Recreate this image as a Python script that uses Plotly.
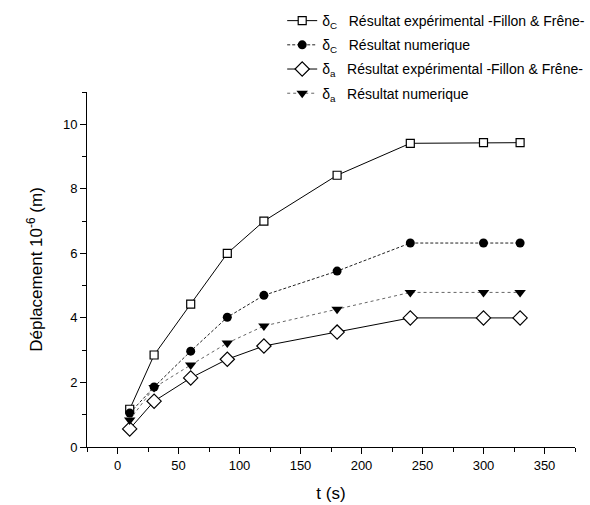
import plotly.graph_objects as go

t = [10, 30, 60, 90, 120, 180, 240, 300, 330]
dc_exp = [1.17, 2.85, 4.43, 6.0, 7.0, 8.42, 9.41, 9.43, 9.43]
dc_num = [1.05, 1.86, 2.97, 4.02, 4.70, 5.45, 6.32, 6.32, 6.32]
da_exp = [0.56, 1.42, 2.14, 2.72, 3.13, 3.56, 4.0, 4.0, 4.0]
da_num = [0.84, 1.84, 2.54, 3.22, 3.75, 4.27, 4.79, 4.79, 4.79]

names = [
    "δ<sub>C</sub>   Résultat expérimental -Fillon & Frêne-",
    "δ<sub>C</sub>   Résultat numerique",
    "δ<sub>a</sub>   Résultat expérimental -Fillon & Frêne-",
    "δ<sub>a</sub>   Résultat numerique",
]

fig = go.Figure()
fig.add_trace(go.Scatter(x=t, y=dc_exp, name=names[0], mode="lines+markers", legendgroup="g1",
    line=dict(color="black", width=1, dash="solid"),
    marker=dict(symbol="square", size=8, color="white", line=dict(color="black", width=1.2))))
fig.add_trace(go.Scatter(x=t, y=dc_num, name=names[1], mode="lines+markers", legendgroup="g2",
    line=dict(color="#222", width=1, dash="3px,2px"),
    marker=dict(symbol="circle", size=9, color="black")))
fig.add_trace(go.Scatter(x=t, y=da_exp, name=names[2], mode="lines+markers", legendgroup="g3",
    line=dict(color="black", width=1, dash="solid"),
    marker=dict(symbol="diamond", size=11, color="white", line=dict(color="black", width=1.2))))
fig.add_trace(go.Scatter(x=t, y=da_num, name=names[3], mode="lines+markers", legendgroup="g4",
    line=dict(color="#666", width=1, dash="dot"),
    marker=dict(symbol="triangle-down", size=10, color="black")))

fig.update_layout(
    width=590, height=505,
    margin=dict(l=87, r=15, t=92, b=58, autoexpand=False),
    paper_bgcolor="white", plot_bgcolor="white",
    font=dict(family="Liberation Sans, Arial, sans-serif", color="black", size=13),
    showlegend=True,
    legend=dict(x=0.40, y=1.245, xanchor="left", yanchor="top",
                bgcolor="rgba(0,0,0,0)", font=dict(size=14), tracegroupgap=3,
                itemwidth=30),
    xaxis=dict(range=[-25, 375], tickmode="array", tickvals=[0, 50, 100, 150, 200, 250, 300, 350],
               ticks="outside", ticklen=6, tickcolor="black", showline=True, linecolor="black",
               linewidth=1, showgrid=False, zeroline=False, automargin=False,
               minor=dict(tickvals=[-25, 25, 75, 125, 175, 225, 275, 325, 375], ticks="outside", ticklen=4, tickcolor="black"),
               title=dict(text="t (s)", font=dict(size=17)),
               tickfont=dict(size=13)),
    yaxis=dict(range=[0, 11], tickmode="array", tickvals=[0, 2, 4, 6, 8, 10],
               ticks="outside", ticklen=6, tickcolor="black", showline=True, linecolor="black",
               linewidth=1, showgrid=False, zeroline=False, automargin=False,
               minor=dict(tickvals=[1, 3, 5, 7, 9, 11], ticks="outside", ticklen=4, tickcolor="black"),
               title=dict(text="Déplacement 10<sup>-6</sup> (m)", font=dict(size=17)),
               tickfont=dict(size=13)),
)

fig.write_html("out.html")
